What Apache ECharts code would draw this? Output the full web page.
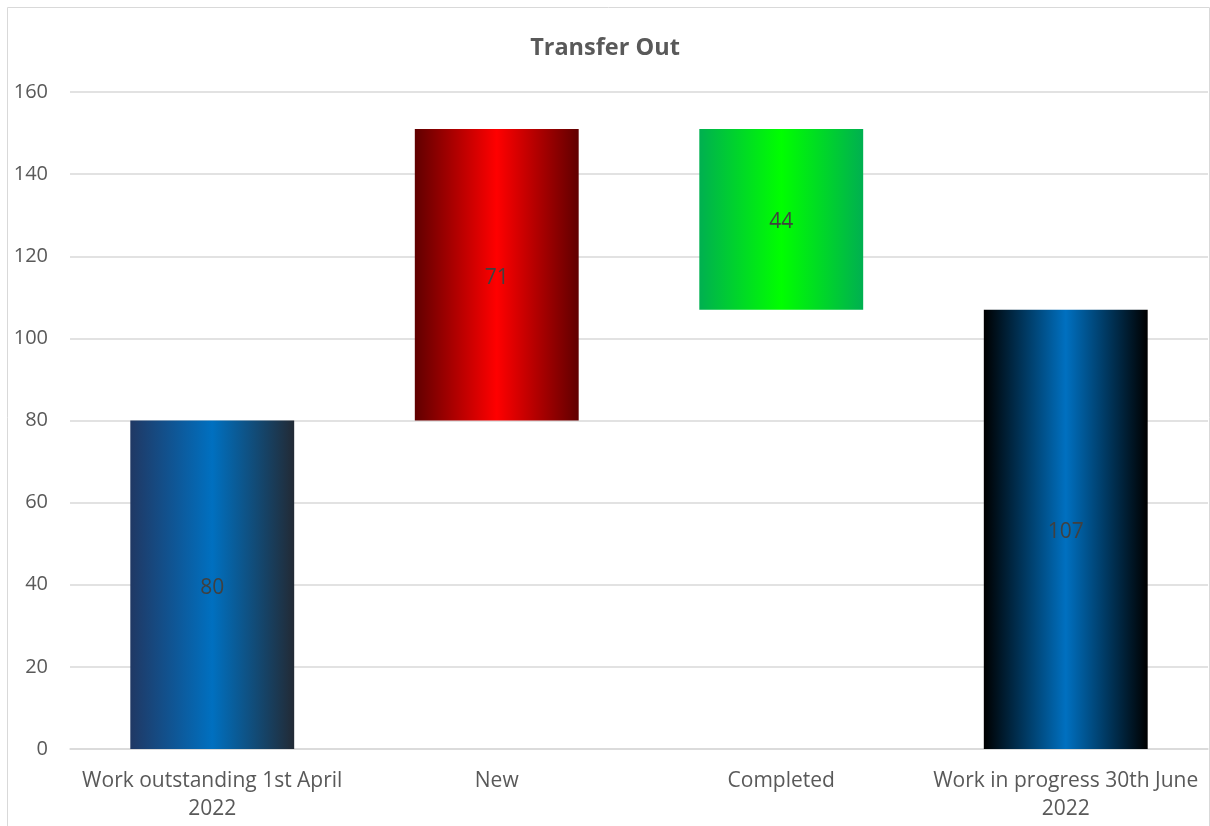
<!DOCTYPE html>
<html>
<head>
<meta charset="utf-8">
<script src="https://cdn.jsdelivr.net/npm/echarts@6/dist/echarts.min.js"></script>
<style>html,body{margin:0;padding:0;background:#fff;}#c{width:1210px;height:826px;}</style>
</head>
<body>
<div id="c"></div>
<script>
const categories = ['Work outstanding 1st April\n2022', 'New', 'Completed', 'Work in progress 30th June\n2022'];
const values = [80, 71, 44, 107];
const kinds = ['total', 'increase', 'decrease', 'total'];
const yTicks = [0, 20, 40, 60, 80, 100, 120, 140, 160];

// waterfall base offsets from running totals
const bases = [];
let running = 0;
values.forEach((v, i) => {
  if (kinds[i] === 'total') { bases.push(0); running = v; }
  else if (kinds[i] === 'increase') { bases.push(running); running += v; }
  else { running -= v; bases.push(running); }
});

function grad(edgeL, mid, edgeR) {
  return new echarts.graphic.LinearGradient(0, 0, 1, 0, [
    {offset: 0, color: edgeL}, {offset: 0.5, color: mid}, {offset: 1, color: edgeR}
  ]);
}
const fills = [
  grad('#203864', '#0070c0', '#222a35'),
  grad('#600000', '#ff0000', '#600000'),
  grad('#00b050', '#00ff00', '#00b050'),
  grad('#000000', '#0070c0', '#000000')
];

const chart = echarts.init(document.getElementById('c'));
chart.setOption({
  animation: false,
  title: {
    text: 'Transfer Out', left: 'center', top: 31,
    textStyle: {fontFamily: 'Open Sans', fontSize: 23.5, fontWeight: 'bold', color: '#595959'}
  },
  graphic: [{
    type: 'rect', shape: {x: 7.5, y: 7.5, width: 1202, height: 840},
    style: {fill: 'none', stroke: '#d9d9d9', lineWidth: 1}, silent: true
  }],
  grid: {left: 70, right: 2, top: 92, bottom: 77, containLabel: false},
  xAxis: {
    type: 'category', data: categories,
    axisLine: {show: true, lineStyle: {color: '#d9d9d9', width: 1.5}},
    axisTick: {show: false},
    axisLabel: {fontFamily: 'Open Sans', fontSize: 21, color: '#595959', lineHeight: 28, margin: 18, interval: 0}
  },
  yAxis: {
    type: 'value', min: yTicks[0], max: yTicks[yTicks.length - 1], interval: 20,
    axisLine: {show: false}, axisTick: {show: false},
    splitLine: {lineStyle: {color: '#d9d9d9', width: 1.5}},
    axisLabel: {fontFamily: 'Open Sans', fontSize: 20, color: '#595959', margin: 22}
  },
  series: [
    {
      type: 'bar', stack: 'w', data: bases, barWidth: '57.6%',
      itemStyle: {color: 'transparent'}, silent: true
    },
    {
      type: 'bar', stack: 'w',
      data: values.map((v, i) => ({value: v, itemStyle: {color: fills[i]}})),
      label: {show: true, position: 'inside', offset: [0, 3], fontFamily: 'Open Sans', fontSize: 21, color: '#404040'}
    }
  ]
});
</script>
</body>
</html>
